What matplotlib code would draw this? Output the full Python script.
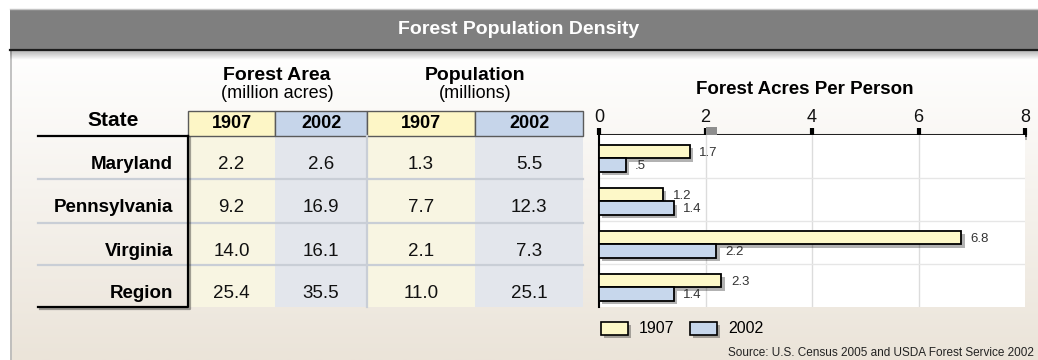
import numpy as np
import matplotlib
matplotlib.use("Agg")
import matplotlib.pyplot as plt
from matplotlib.patches import Rectangle
from matplotlib.colors import LinearSegmentedColormap
import matplotlib.patheffects as pe

plt.rcParams['font.family'] = ['Liberation Sans', 'DejaVu Sans']

# table data
states = ['Maryland', 'Pennsylvania', 'Virginia', 'Region']
area_1907 = [2.2, 9.2, 14.0, 25.4]
area_2002 = [2.6, 16.9, 16.1, 35.5]
pop_1907 = [1.3, 7.7, 2.1, 11.0]
pop_2002 = [5.5, 12.3, 7.3, 25.1]

# forest acres per person
acres_1907 = [1.7, 1.2, 6.8, 2.3]
acres_2002 = [0.5, 1.4, 2.2, 1.4]

years = ['1907', '2002']
xticks = [0, 2, 4, 6, 8]
source = 'Source: U.S. Census 2005 and USDA Forest Service 2002'

yel_box = '#fdf6c6'
blu_box = '#c6d5ea'
yel_cell = '#f8f5e2'
blu_cell = '#e3e6ec'
sep = '#c9ced6'

W, H = 1038, 360
fig = plt.figure(figsize=(W / 100, H / 100), dpi=100)
bg = fig.add_axes([0, 0, 1, 1])
bg.set_xlim(0, W)
bg.set_ylim(H, 0)
bg.axis('off')

# panel with soft vertical gradient
grad = np.linspace(0, 1, 256)[:, None]
cm = LinearSegmentedColormap.from_list('panel', ['#ffffff', '#ebe4d9'])
bg.imshow(grad, cmap=cm, extent=(10, W, H, 50), aspect='auto', zorder=0)
bg.plot([10.5, 10.5], [50, H], color='#b8b8b8', lw=1.2, zorder=1)

# header band
bg.add_patch(Rectangle((10, 9), W - 10, 40, fc='#7f7f7f', ec='none', zorder=2))
bg.plot([10, W], [9, 9], color='#c4c4c4', lw=1, zorder=3)
shadow = np.zeros((32, 1, 4))
shadow[:, 0, 3] = np.linspace(0.3, 0, 32)
bg.imshow(shadow, extent=(10, W, 60, 50), aspect='auto', zorder=2)
bg.plot([10, W], [49.5, 49.5], color='#1c1c1c', lw=1.6, zorder=3)
bg.text(519, 30, 'Forest Population Density', color='white', fontsize=14,
        fontweight='bold', ha='center', va='center', zorder=4)

# table layout
col_edges = [188, 275, 367, 475, 583]
row_edges = [136, 179, 223, 265, 307]
box_top = 111
cell_fill = [yel_cell, blu_cell, yel_cell, blu_cell]
box_fill = [yel_box, blu_box, yel_box, blu_box]
columns = [area_1907, area_2002, pop_1907, pop_2002]

for j in range(4):
    x0, x1 = col_edges[j], col_edges[j + 1]
    bg.add_patch(Rectangle((x0, row_edges[0]), x1 - x0, row_edges[-1] - row_edges[0],
                           fc=cell_fill[j], ec='none', zorder=2))
    bg.add_patch(Rectangle((x0, box_top), x1 - x0, row_edges[0] - box_top,
                           fc=box_fill[j], ec='#5a5a5a', lw=1, zorder=3))
    bg.text((x0 + x1) / 2, 124, years[j % 2], fontsize=13, fontweight='bold',
            ha='center', va='center', zorder=4)
    for i, v in enumerate(columns[j]):
        yc = (row_edges[i] + row_edges[i + 1]) / 2
        bg.text((x0 + x1) / 2, yc + 11.5, f'{v:.1f}', fontsize=13.5,
                ha='center', va='baseline', color='#111111', zorder=4)

for y in row_edges[1:-1]:
    bg.plot([38, 583], [y, y], color=sep, lw=1.6, zorder=3)
bg.plot([367, 367], [row_edges[0], row_edges[-1]], color=sep, lw=1.6, zorder=3)

line_fx = [pe.SimpleLineShadow(offset=(1.5, -1.5), alpha=0.35), pe.Normal()]
bg.plot([38, 188], [136, 136], color='black', lw=1.6, zorder=5)
bg.plot([38, 188, 188], [307, 307, 136], color='black', lw=1.6, zorder=5,
        path_effects=line_fx)

bg.text(113, 120, 'State', fontsize=15, fontweight='bold', ha='center', va='center')
for i, s in enumerate(states):
    yc = (row_edges[i] + row_edges[i + 1]) / 2
    bg.text(173, yc + 11.5, s, fontsize=13.5, fontweight='bold', ha='right',
            va='baseline', zorder=4)

bg.text(277, 75, 'Forest Area', fontsize=14, fontweight='bold', ha='center', va='center')
bg.text(277, 93, '(million acres)', fontsize=13, ha='center', va='center')
bg.text(475, 75, 'Population', fontsize=14, fontweight='bold', ha='center', va='center')
bg.text(475, 93, '(millions)', fontsize=13, ha='center', va='center')

# bar chart
ax_l, ax_r, ax_t, ax_b = 599, 1025, 135, 307
ax = fig.add_axes([ax_l / W, (H - ax_b) / H, (ax_r - ax_l) / W, (ax_b - ax_t) / H])
ax.set_facecolor('white')
ax.set_xlim(0, 8)
ax.set_ylim(3.5, -0.5)

for x in xticks[1:-1]:
    ax.axvline(x, color='#dcdcdc', lw=1, zorder=0)
for y in [0.5, 1.5, 2.5]:
    ax.axhline(y, color='#e6e6e6', lw=1, zorder=0)

pos = np.arange(len(states)) + 0.04
hb = 0.31
bar_fx = [pe.SimplePatchShadow(offset=(2.5, -2.5), shadow_rgbFace='black', alpha=0.3),
          pe.Normal()]
b1 = ax.barh(pos - hb / 2, acres_1907, height=hb, color='#fdf8c8', edgecolor='black',
             lw=1.3, zorder=3)
b2 = ax.barh(pos + hb / 2, acres_2002, height=hb, color='#c7d7ec', edgecolor='black',
             lw=1.3, zorder=3)
for bars, vals, off in [(b1, acres_1907, -hb / 2), (b2, acres_2002, hb / 2)]:
    for b, v, p in zip(bars, vals, pos):
        b.set_path_effects(bar_fx)
        lab = f'{v:.1f}'.lstrip('0')
        ax.text(v + 0.18, p + off + 0.03, lab, fontsize=9.5, color='#333333',
                va='center', ha='left', zorder=4)

ax.xaxis.tick_top()
ax.set_xticks(xticks)
ax.set_yticks([])
ax.tick_params(axis='x', length=5, width=3, color='black', labelsize=13,
               pad=1.5, labelcolor='#111111')
for s in ['top', 'right', 'bottom']:
    ax.spines[s].set_visible(False)
ax.spines['left'].set_linewidth(1.5)
ax.add_patch(Rectangle((2.0, -0.69), 0.22, 0.19, fc='#8e8e8e', ec='none',
                       clip_on=False, zorder=5))

# axis line with a soft shadow underneath
bg.plot([ax_l, ax_r], [ax_t, ax_t], color='#222222', lw=2.2, zorder=6,
        path_effects=[pe.SimpleLineShadow(offset=(0, -2.2), alpha=0.3), pe.Normal()])

bg.text(805, 90, 'Forest Acres Per Person', fontsize=13.5, fontweight='bold',
        ha='center', va='center')

# legend
for k, (yr, c) in enumerate(zip(years, ['#fdf8c8', '#c7d7ec'])):
    x0 = 601 + k * 89
    bg.add_patch(Rectangle((x0, 322), 27, 13, fc=c, ec='black', lw=1.2, zorder=5,
                           path_effects=bar_fx))
    bg.text(x0 + 38, 328.5, yr, fontsize=11.5, ha='left', va='center', zorder=5)

bg.text(1034, 353, source, fontsize=8.5, ha='right', va='center', color='#222222')

fig.savefig('out.png', dpi=100)
